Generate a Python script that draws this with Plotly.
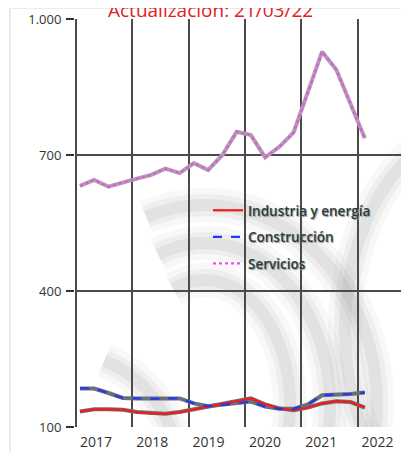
import numpy as np
import plotly.graph_objects as go

# ---------------- data ----------------
quarters = ["2017-T1", "2017-T2", "2017-T3", "2017-T4",
            "2018-T1", "2018-T2", "2018-T3", "2018-T4",
            "2019-T1", "2019-T2", "2019-T3", "2019-T4",
            "2020-T1", "2020-T2", "2020-T3", "2020-T4",
            "2021-T1", "2021-T2", "2021-T3", "2021-T4", "2022-T1"]
industria = [134, 139, 139, 138, 133, 130, 129, 133, 139, 145, 152,
             157, 163, 150, 141, 137, 143, 152, 157, 155, 143]
construccion = [185, 185, 175, 164, 163, 162, 163, 163, 152, 146, 149,
                153, 156, 145, 140, 140, 150, 170, 171, 173, 176]
servicios = [632, 645, 630, 640, 648, 656, 670, 660, 682, 667, 700,
             751, 744, 695, 718, 750, 837, 928, 888, 814, 737]
years = [2017, 2018, 2019, 2020, 2021, 2022]
year_labels = ["2017", "2018", "2019", "2020", "2021", "2022"]
y_ticks = [100, 400, 700, 1000]
y_ticktext = ["100", "400", "700", "1.000"]
title_text = "Actualización: 21/03/22"

# quarter index -> position on the year axis
xpos = [2017.07 + i * 0.253 for i in range(len(quarters))]

OFF = 8  # page body margin
W, H = 409 - OFF, 452 - OFF
L, R, T, B = 75 - OFF, 0, 19 - OFF, 25
PW, PH = W - L - R, H - T - B
x0, x1 = 2016.982, 2016.982 + PW / 56.3
y0, y1 = 100, 1000

GRID = "#4a4a4a"

fig = go.Figure()

series = [
    ("Industria y energía", industria, "#f21a1a", "solid", "#707070"),
    ("Construcción", construccion, "#2436f0", "dash", "#68707a"),
    ("Servicios", servicios, "#ef4cef", "dot", "#aaa2aa"),
]
# shadows
for name, vals, col, dash, sh in series:
    fig.add_trace(go.Scatter(x=xpos, y=vals, mode="lines", showlegend=False,
                             hoverinfo="skip",
                             line=dict(color=sh, width=4)))
for k, (name, vals, col, dash, sh) in enumerate(series):
    fig.add_trace(go.Scatter(x=xpos, y=vals, mode="lines", name=name,
                             legendgroup=str(k),
                             line=dict(color=col, width=2.2, dash=dash)))

# ---------------- watermark (decorative arcs), page-pixel geometry ----------------
def px2x(p):
    return 2017 + (p - 76) / 56.3

def py2y(p):
    return 1000 - (p - 19) * 300 / 136

def arc_path(cx, cy, rx, ry, a0, a1, n=60):
    t = np.radians(np.linspace(a0, a1, n))
    xs = cx + rx * np.cos(t)
    ys = cy - ry * np.sin(t)
    pts = [f"{px2x(a):.4f},{py2y(b):.2f}" for a, b in zip(xs, ys)]
    return "M" + " L".join(pts)

arcs = [
    (205, 405, 85, 125, 112, -90),
    (205, 405, 125, 162, 112, -90),
    (205, 405, 172, 200, 110, -20),
    (485, 330, 140, 205, 115, 250),
    (60, 470, 118, 118, 68, 15),
]
shapes = []
for cx, cy, rx, ry, a0, a1 in arcs:
    p = arc_path(cx, cy, rx, ry, a0, a1)
    for w, a in [(34, 0.05), (22, 0.07), (12, 0.09)]:
        shapes.append(dict(type="path", path=p, xref="x", yref="y", layer="below",
                           line=dict(color=f"rgba(110,110,115,{a})", width=w)))

# faint outer frame
shapes.append(dict(type="rect", xref="paper", yref="paper",
                   x0=(10 - 75) / PW, x1=1.05,
                   y0=-0.2, y1=(427 - 8) / PH,
                   line=dict(color="#e6e6e6", width=1.5), layer="below"))

fig.update_layout(
    width=W, height=H,
    margin=dict(l=L, r=R, t=T, b=B),
    paper_bgcolor="white", plot_bgcolor="white",
    shapes=shapes,
    showlegend=True,
    legend=dict(x=(208 - 75) / PW, y=(427 - 195) / PH,
                xanchor="left", yanchor="top", bgcolor="rgba(0,0,0,0)",
                tracegroupgap=6,
                font=dict(family="Open Sans", size=13.5, color="#2f3c3b",
                          weight=600, shadow="1px 1px 1px #8a9a9a")),
    xaxis=dict(range=[x0, x1], tickmode="array",
               tickvals=[y + 0.355 for y in years], ticktext=year_labels,
               showgrid=False, zeroline=False, ticks="", showline=False,
               ticklabelstandoff=5,
               tickfont=dict(family="Open Sans", size=14, color="#333"),
               minor=dict(tickmode="array", tickvals=years, showgrid=True,
                          gridcolor=GRID, gridwidth=2, ticks="")),
    yaxis=dict(range=[y0, y1], tickmode="array", tickvals=y_ticks,
               ticktext=y_ticktext, showgrid=False, zeroline=False,
               ticks="outside", ticklen=8, tickwidth=1.5, tickcolor="#333",
               ticklabelstandoff=2,
               tickfont=dict(family="Open Sans", size=13, color="#333"),
               minor=dict(tickmode="array", tickvals=[400, 700, 1000],
                          showgrid=True, gridcolor=GRID, gridwidth=2, ticks="")),
    annotations=[dict(text=title_text, xref="paper", yref="paper",
                      x=(210 - 75) / PW, y=(427 - 10) / PH,
                      xanchor="center", yanchor="middle", showarrow=False,
                      font=dict(family="Open Sans", size=19, color="#e0201c"))],
)

fig.write_html("out.html")
